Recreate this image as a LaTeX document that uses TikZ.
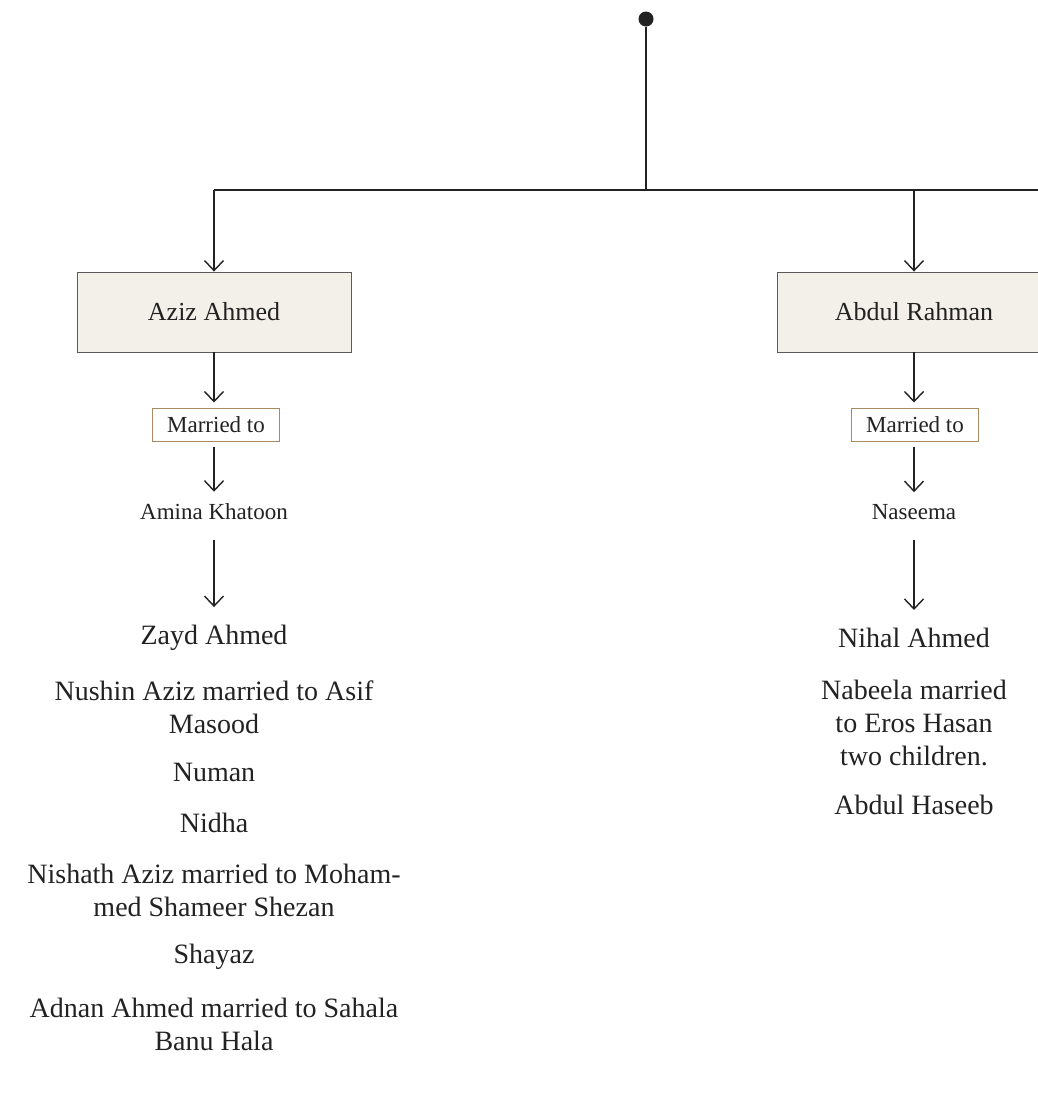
\documentclass[tikz,border=0pt]{standalone}
\usepackage{fontspec}
\setmainfont{Liberation Serif}
\usetikzlibrary{arrows.meta}
\definecolor{ink}{HTML}{222222}
\definecolor{boxfill}{HTML}{F3F0EA}
\definecolor{boxline}{HTML}{5A5A5A}
\definecolor{tanline}{HTML}{A88B65}
\begin{document}
\begin{tikzpicture}[x=1pt,y=-1pt,
  link/.style={draw=ink, line width=1.4pt},
  arr/.style={link, -{Straight Barb[length=10pt,width=19pt]}},
  rootdot/.style={circle, fill=ink, minimum size=15pt, inner sep=0pt},
  namebox/.style={draw=boxline, fill=boxfill, line width=0.9pt, minimum width=274pt, minimum height=80pt, inner sep=0pt, text=ink, font=\fontsize{26}{31}\selectfont},
  marbox/.style={draw=tanline, fill=white, line width=1pt, minimum width=127pt, minimum height=33pt, inner sep=0pt, text=ink, font=\fontsize{23}{28}\selectfont},
  spouse/.style={inner sep=0pt, text=ink, font=\fontsize{23}{28}\selectfont},
  kid/.style={inner sep=0pt, align=center, text=ink, font=\fontsize{28}{33}\selectfont}
]
\useasboundingbox (0,0) rectangle (1038,1120);
\clip (0,0) rectangle (1038,1120);
\fill[white] (0,0) rectangle (1038,1120);

\node[rootdot] (top) at (646,19) {};
\coordinate (j) at (646,190);
\coordinate (jl) at (214,190);
\coordinate (jr) at (914,190);
\coordinate (je) at (1040,190);

\node[namebox] (aziz) at (214,312) {Aziz Ahmed};
\node[namebox] (abdul) at (914,312) {Abdul Rahman};

\node[marbox] (m1) at (216,424.5) {Married to};
\node[marbox] (m2) at (915,424.5) {Married to};

\node[spouse] (amina) at (214,512) {Amina Khatoon};
\node[spouse] (naseema) at (914,512) {Naseema};

\node[kid] (c1) at (214,638) {Zayd Ahmed};
\node[kid] (c2) at (214,707) {Nushin Aziz married to Asif\\Masood};
\node[kid] (c3) at (214,772) {Numan};
\node[kid] (c4) at (214,823) {Nidha};
\node[kid] (c5) at (214,890) {Nishath Aziz married to Moham-\\med Shameer Shezan};
\node[kid] (c6) at (214,957) {Shayaz};
\node[kid] (c7) at (214,1024) {Adnan Ahmed married to Sahala\\Banu Hala};

\node[kid] (r1) at (914,638) {Nihal Ahmed};
\node[kid] (r2) at (914,723) {Nabeela married\\to Eros Hasan\\two children.};
\node[kid] (r3) at (914,805) {Abdul Haseeb};

\draw[link] (top) -- (j);
\draw[link] (jl) -- (je);
\draw[arr] (jl) -- (aziz.north);
\draw[arr] (jr) -- (abdul.north);

\draw[arr, shorten >=5pt] (aziz.south) -- (aziz.south |- m1.north);
\draw[arr, shorten >=5pt] (abdul.south) -- (abdul.south |- m2.north);
\draw[arr, shorten <=5pt, shorten >=12pt] (aziz.south |- m1.south) -- (aziz.south |- amina.north);
\draw[arr, shorten <=5pt, shorten >=12pt] (abdul.south |- m2.south) -- (abdul.south |- naseema.north);
\draw[arr, shorten <=20pt, shorten >=18pt] (amina.south) -- (c1.north);
\draw[arr, shorten <=20pt, shorten >=18pt] (naseema.south) -- (r1.north);
\end{tikzpicture}
\end{document}
